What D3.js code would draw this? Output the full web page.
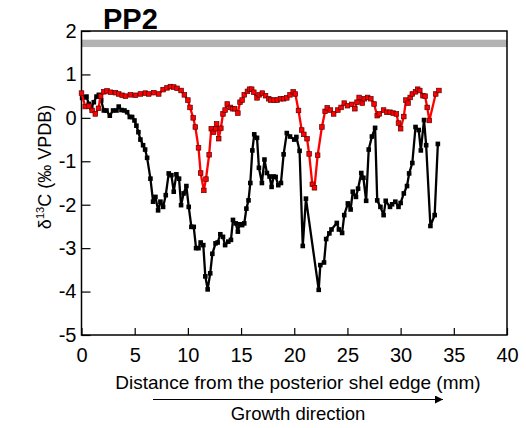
<!DOCTYPE html>
<html>
<head>
<meta charset="utf-8">
<script src="https://cdn.jsdelivr.net/npm/d3@7"></script>
<style>
  html, body { margin: 0; padding: 0; background: #fff; }
  svg { display: block; font-family: "Liberation Sans", Arial, sans-serif; }
</style>
</head>
<body>
<svg id="chart" width="526" height="428"></svg>
<script>
// ---- data ----
const redX = [0.0,0.35,0.7,1.0,1.3,1.6,1.8,2.1,2.4,2.72,3.19,3.5,3.82,4.13,4.6,5.07,5.54,6.0,6.32,6.8,7.26,7.67,8.04,8.36,8.67,8.98,9.36,9.67,10.0,10.2,10.5,10.7,11.0,11.2,11.5,11.7,12.0,12.2,12.4,12.6,12.7,12.9,13.1,13.3,13.5,13.7,14.0,14.2,14.4,14.7,14.9,15.1,15.3,15.6,15.8,16.0,16.2,16.5,16.7,17.0,17.3,17.6,17.8,18.1,18.4,18.7,19.0,19.3,19.6,19.9,20.1,20.4,20.7,20.9,21.2,21.4,21.7,21.9,22.2,22.6,22.9,23.1,23.4,23.7,24.1,24.4,24.7,25.0,25.4,25.7,25.9,26.1,26.4,26.6,26.9,27.2,27.5,27.8,28.0,28.4,28.7,29.0,29.3,29.6,29.8,30.0,30.3,30.5,30.7,30.9,31.1,31.4,31.6,31.8,32.1,32.3,32.5,32.7,33.3,33.6];
const redY = [0.57,0.26,0.27,0.17,0.09,0.22,0.5,0.6,0.62,0.59,0.58,0.55,0.52,0.5,0.53,0.52,0.55,0.57,0.55,0.58,0.55,0.65,0.69,0.72,0.71,0.68,0.63,0.53,0.41,0.24,0.0,-0.21,-0.69,-1.27,-1.67,-1.41,-0.85,-0.25,-0.33,-0.25,-0.14,-0.48,-0.24,0.09,0.18,0.32,0.24,0.21,0.21,0.11,0.36,0.41,0.53,0.61,0.66,0.66,0.59,0.46,0.53,0.57,0.51,0.44,0.41,0.41,0.41,0.44,0.44,0.46,0.53,0.6,0.55,0.17,-0.28,-0.38,-0.48,-0.83,-1.53,-1.61,-0.86,-0.21,0.15,0.23,0.18,0.09,0.18,0.24,0.34,0.28,0.31,0.21,0.36,0.47,0.34,0.44,0.47,0.44,0.32,0.05,0.09,0.18,0.13,0.13,0.11,0.09,-0.12,-0.25,0.03,0.41,0.34,0.47,0.55,0.6,0.66,0.63,0.51,0.5,0.24,-0.06,0.55,0.63];

const blackX = [0.06,0.28,0.47,0.69,0.91,1.16,1.41,1.63,1.85,2.1,2.35,2.66,2.97,3.29,3.5,3.76,4.04,4.29,4.54,4.76,4.98,5.16,5.35,5.54,5.79,5.98,6.17,6.48,6.73,6.95,7.2,7.42,7.67,7.92,8.2,8.45,8.67,8.92,9.17,9.36,9.6,9.86,10.08,10.33,10.55,10.77,11.0,11.2,11.45,11.64,11.86,12.1,12.3,12.6,12.8,13.05,13.3,13.5,13.8,14.05,14.24,14.5,14.7,14.87,15.1,15.3,15.5,15.7,15.87,16.06,16.24,16.5,16.68,16.96,17.2,17.43,17.68,17.87,18.06,18.25,18.5,18.75,19.0,19.3,19.6,20.0,20.2,20.5,20.8,21.1,22.3,22.45,22.8,23.0,23.3,23.5,24.0,24.2,24.5,24.7,25.04,25.3,25.5,25.8,26.0,26.3,26.5,26.76,27.0,27.3,27.6,27.8,28.1,28.4,28.6,29.0,29.2,29.5,29.8,30.0,30.3,30.6,30.8,31.1,31.4,31.7,31.9,32.2,32.4,32.8,33.2,33.5];
const blackY = [0.46,0.47,0.49,0.32,0.24,0.36,0.49,0.53,0.4,0.17,0.17,0.05,0.17,0.17,0.26,0.18,0.17,0.13,0.02,0.02,-0.06,-0.18,-0.33,-0.5,-0.63,-0.73,-0.92,-1.4,-1.93,-1.82,-2.13,-1.93,-2.05,-1.78,-1.28,-1.32,-1.7,-1.3,-1.4,-2.01,-1.74,-1.57,-2.05,-2.51,-2.51,-3.0,-3.0,-2.87,-2.93,-3.65,-3.95,-3.58,-3.13,-2.89,-2.87,-2.68,-2.74,-2.93,-2.85,-2.81,-2.35,-2.43,-2.62,-2.45,-2.47,-2.43,-2.09,-1.9,-1.5,-0.75,-0.38,-0.46,-1.15,-1.5,-0.96,-1.27,-1.35,-1.59,-1.35,-1.36,-1.55,-1.5,-0.84,-0.35,-0.43,-0.5,-0.44,-0.76,-2.95,-1.86,-3.96,-3.39,-3.33,-2.79,-2.66,-2.57,-2.42,-2.57,-2.65,-2.24,-1.97,-2.11,-1.7,-1.82,-1.63,-1.27,-1.38,-1.91,-0.73,-0.43,-0.23,-1.9,-2.05,-2.24,-1.91,-2.05,-1.99,-1.93,-2.05,-1.96,-1.74,-1.57,-1.28,-1.04,-0.21,-0.28,-0.75,-0.05,-0.63,-2.49,-2.24,-0.6];

const xTicks = [0,5,10,15,20,25,30,35,40];
const yTicks = [-5,-4,-3,-2,-1,0,1,2];
const bandRange = [1.63, 1.80];
const title = "PP2";
const xLabel = "Distance from the posterior shel edge (mm)";
const arrowLabel = "Growth direction";

// ---- layout ----
const L = 81.5, R = 507, T = 31, B = 335;
const svg = d3.select("#chart");
const x = d3.scaleLinear().domain([0, 40]).range([L, R]);
const y = d3.scaleLinear().domain([-5, 2]).range([B, T]);

// gray band
svg.append("rect")
  .attr("x", L).attr("width", R - L)
  .attr("y", y(bandRange[1])).attr("height", y(bandRange[0]) - y(bandRange[1]))
  .attr("fill", "#b3b3b3");

// axes (ticks inside)
const xAxis = d3.axisBottom(x).tickValues(xTicks).tickFormat(d => String(d))
  .tickSizeInner(-7).tickSizeOuter(0).tickPadding(13);
const gx = svg.append("g").attr("transform", `translate(0,${B})`).call(xAxis);
gx.select(".domain").remove();
gx.selectAll(".tick line").attr("stroke", "#000").attr("stroke-width", 1.2);
gx.selectAll(".tick text").attr("font-size", 20).attr("fill", "#000")
  .attr("font-family", "Liberation Sans, Arial, sans-serif").attr("dy", "0.71em");

const yAxis = d3.axisLeft(y).tickValues(yTicks).tickFormat(d => String(d))
  .tickSizeInner(-9).tickSizeOuter(0).tickPadding(5);
const gy = svg.append("g").attr("transform", `translate(${L},0)`).call(yAxis);
gy.select(".domain").remove();
gy.selectAll(".tick line").attr("stroke", "#000").attr("stroke-width", 1.2);
gy.selectAll(".tick text").attr("font-size", 20).attr("fill", "#000")
  .attr("font-family", "Liberation Sans, Arial, sans-serif");

// frame
svg.append("rect").attr("x", L).attr("y", T).attr("width", R - L).attr("height", B - T)
  .attr("fill", "none").attr("stroke", "#000").attr("stroke-width", 1.5);

// series
const line = d3.line().x(d => x(d[0])).y(d => y(d[1]));
const redData = redX.map((v, i) => [v, redY[i]]);
const blackData = blackX.map((v, i) => [v, blackY[i]]);

svg.append("path").datum(blackData).attr("d", line)
  .attr("fill", "none").attr("stroke", "#000").attr("stroke-width", 2.3).attr("stroke-linejoin", "round");
svg.append("g").selectAll("rect").data(blackData).join("rect")
  .attr("x", d => x(d[0]) - 2.3).attr("y", d => y(d[1]) - 2.3)
  .attr("width", 4.6).attr("height", 4.6).attr("fill", "#000");

svg.append("path").datum(redData).attr("d", line)
  .attr("fill", "none").attr("stroke", "#ff0000").attr("stroke-width", 2.3).attr("stroke-linejoin", "round");
svg.append("g").selectAll("rect").data(redData).join("rect")
  .attr("x", d => x(d[0]) - 2.3).attr("y", d => y(d[1]) - 2.3)
  .attr("width", 4.6).attr("height", 4.6).attr("fill", "#ff0000")
  .attr("stroke", "#5a0000").attr("stroke-width", 0.7);

// title
svg.append("text").attr("x", 103).attr("y", 29).text(title)
  .attr("font-size", 29).attr("font-weight", "bold").attr("fill", "#000");

// y label
const yl = svg.append("text")
  .attr("transform", `translate(51,${167}) rotate(-90)`)
  .attr("text-anchor", "middle").attr("font-size", 18).attr("fill", "#000");
yl.append("tspan").text("δ");
yl.append("tspan").attr("font-size", 11).attr("dy", -7).text("13");
yl.append("tspan").attr("dy", 7).text("C (‰ VPDB)");

// x label
svg.append("text").attr("x", 298).attr("y", 389).attr("text-anchor", "middle")
  .attr("font-size", 19).attr("fill", "#000").text(xLabel);

// arrow
svg.append("defs").append("marker").attr("id", "ah")
  .attr("viewBox", "0 0 10 10").attr("refX", 10).attr("refY", 5)
  .attr("markerWidth", 8).attr("markerHeight", 8).attr("markerUnits", "userSpaceOnUse")
  .attr("orient", "auto")
  .append("path").attr("d", "M0,0 L10,5 L0,10 z").attr("fill", "#000");
svg.append("line").attr("x1", 153).attr("x2", 443).attr("y1", 399.5).attr("y2", 399.5)
  .attr("stroke", "#000").attr("stroke-width", 1.2).attr("marker-end", "url(#ah)");

svg.append("text").attr("x", 298).attr("y", 420).attr("text-anchor", "middle")
  .attr("font-size", 18.5).attr("fill", "#000").text(arrowLabel);
</script>
</body>
</html>
